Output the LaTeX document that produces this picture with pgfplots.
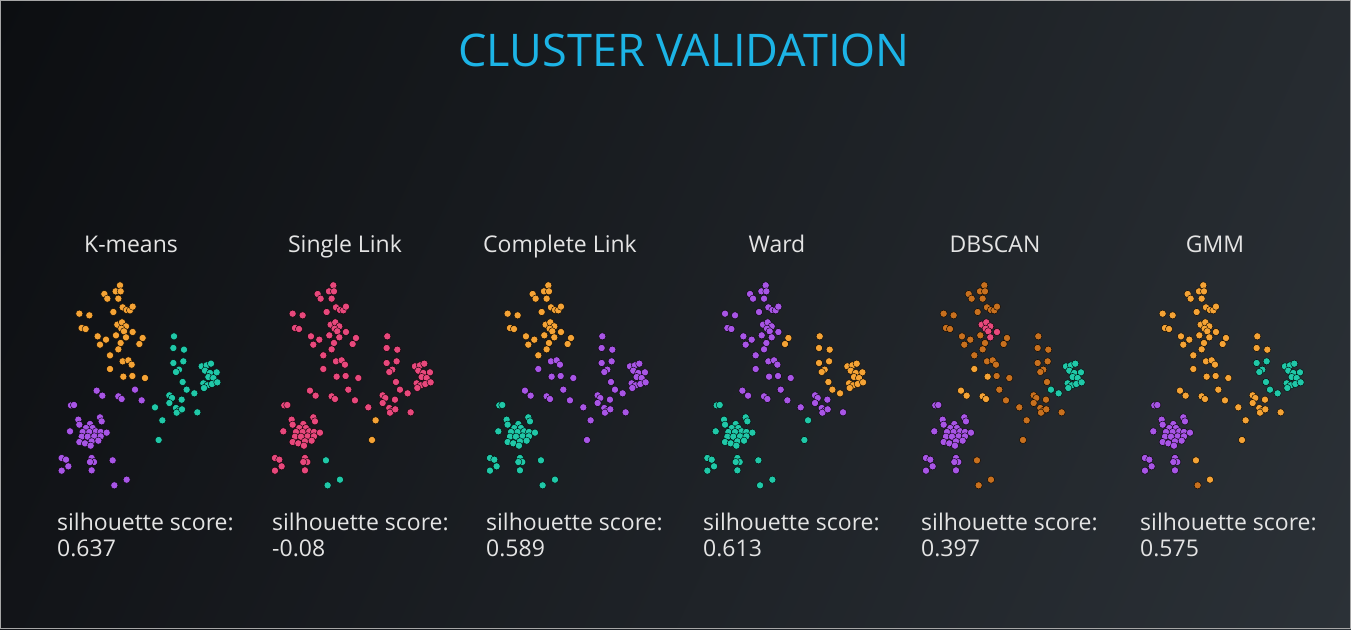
\documentclass[border=0pt]{standalone}
\usepackage{pgfplots}
\pgfplotsset{compat=1.18}
\usepackage{pgfplotstable}
\usetikzlibrary{shadings}
\usepackage{fontspec}
\setmainfont{Open Sans}
\definecolor{corange}{HTML}{F5A335}
\definecolor{cpurple}{HTML}{A855E6}
\definecolor{cteal}{HTML}{20C8A8}
\definecolor{cpink}{HTML}{E8487C}
\definecolor{cdark}{HTML}{C8701E}
\definecolor{ctitle}{HTML}{1CB4E6}
\definecolor{ctext}{HTML}{E4E4E4}
\definecolor{bgul}{HTML}{0C0E11}
\definecolor{bgur}{HTML}{262B30}
\definecolor{bgll}{HTML}{121418}
\definecolor{bglr}{HTML}{2B3137}

\pgfplotstableread{
x y km sl cl wd db gm
210 22 o k o p d o
197 40 o k o p d o
212 40 o k o p d o
163 48 o k o p d o
172 62 o k o p d o
205 62 o k o p d o
190 102 o k o p d o
218 88 o k o p d o
230 96 o k o p d o
240 97 o k o p d o
248 86 o k o p d o
88 107 o k o p d o
118 112 o k o p d o
95 150 o k o p d o
107 153 o k o p d o
143 175 o k o p d o
168 185 o k o p d o
198 172 o k o p d o
150 200 o k o p d o
212 195 o k o p d o
205 214 o k o p d o
278 180 o k o o d o
268 198 o k o o d o
180 232 o k o p d o
202 140 o k o p k o
216 133 o k o p k o
228 145 o k o p k o
214 152 o k o p k o
222 160 o k o p k o
248 162 o k o p k o
228 178 o k o p k o
218 250 o k p p d o
235 247 o k p p d o
245 260 o k p p d o
180 273 o k p p o o
220 296 o k p p o o
247 294 o k p p d o
285 300 o k p p d o
140 338 p k p p o o
157 353 p k p p o o
205 355 p k p p o o
215 363 p k p p o o
255 335 p k p p d o
275 367 p k p p d o
372 175 t k p o d o
370 210 t k p o d o
402 215 t k p o d o
370 255 t k p o d t
400 250 t k p o d t
387 275 t k p o d t
378 282 t k p o d t
398 312 t k p o d t
410 335 t k p o t t
433 346 t k p o t t
455 265 t k p o t t
470 262 t k p o t t
483 257 t k p o t t
465 278 t k p o t t
480 285 t k p o t t
500 283 t k p o t t
475 297 t k p o t t
490 300 t k p o t t
460 316 t k p o t t
472 322 t k p o t t
486 318 t k p o t t
502 313 t k p o t t
462 330 t k p o t t
358 352 t k p p d o
366 360 t k p p d o
358 375 t k p p d o
395 365 t k p p d o
315 388 t k p p d o
378 390 t k p p d o
388 398 t k p p d o
380 404 t k p p d o
396 394 t k p p d o
442 403 t k p p d o
337 427 t o p t d o
326 486 t o p t d o
63 382 p k t t p p
72 381 p k t t p p
85 425 p k t t p p
150 418 p k t t p p
155 430 p k t t p p
88 440 p k t t p p
60 460 p k t t p p
120 438 p k t t p p
108 450 p k t t p p
128 450 p k t t p p
98 462 p k t t p p
118 462 p k t t p p
138 460 p k t t p p
152 462 p k t t p p
170 464 p k t t p p
95 476 p k t t p p
113 476 p k t t p p
133 475 p k t t p p
152 475 p k t t p p
88 492 p k t t p p
105 496 p k t t p p
125 490 p k t t p p
145 488 p k t t p p
122 503 p k t t p p
35 540 p k t t p p
48 545 p k t t p p
55 565 p k t t p p
35 578 p k t t p p
125 540 p k t t p p
132 552 p k t t p p
120 552 p k t t p p
125 577 p k t t p p
188 547 p t t t d o
230 605 p t t t d o
193 622 p t t t d d
}\pts

\pgfplotsset{
  panel/.style={
    anchor=north west, width=180pt, height=215pt, scale only axis,
    xmin=0, xmax=540, ymin=0, ymax=645, y dir=reverse,
    hide axis, clip=false},
  dots/.style={scatter, only marks, mark=*, mark size=3.6pt,
    scatter src=explicit symbolic,
    scatter/classes={
      o={mark=*,mark size=3.6pt,draw=none,fill=corange},
      p={mark=*,mark size=3.6pt,draw=none,fill=cpurple},
      t={mark=*,mark size=3.6pt,draw=none,fill=cteal},
      k={mark=*,mark size=3.6pt,draw=none,fill=cpink},
      d={mark=*,mark size=3.6pt,draw=none,fill=cdark}}}
}

\newcommand{\lab}[2]{\node[text=ctext, font=\fontsize{23}{26}\selectfont, anchor=base, inner sep=0pt] at (#1pt,376pt) {#2};}
\newcommand{\score}[2]{%
  \node[text=ctext, font=\fontsize{23}{26}\selectfont, anchor=base west, inner sep=0pt] at (#1pt,99pt) {silhouette score:};
  \node[text=ctext, font=\fontsize{23}{26}\selectfont, anchor=base west, inner sep=0pt] at (#1pt,73pt) {#2};}

\begin{document}
\begin{tikzpicture}[x=1pt,y=1pt]
\useasboundingbox (0,0) rectangle (1351,629);
\shade[upper left=bgul, upper right=bgur, lower left=bgll, lower right=bglr] (0,0) rectangle (1351,629);
\draw[gray!70, line width=1pt] (0.5,0.5) rectangle (1350.5,628.5);
\node[text=ctitle, font=\fontsize{45}{51}\selectfont] at (684,579) {CLUSTER VALIDATION};

\begin{axis}[panel, at={(50pt,351pt)}]
\addplot[dots] table[x=x,y=y,meta=km]{\pts};
\end{axis}
\begin{axis}[panel, at={(263.3pt,351pt)}]
\addplot[dots] table[x=x,y=y,meta=sl]{\pts};
\end{axis}
\begin{axis}[panel, at={(478.3pt,351pt)}]
\addplot[dots] table[x=x,y=y,meta=cl]{\pts};
\end{axis}
\begin{axis}[panel, at={(695.7pt,351pt)}]
\addplot[dots] table[x=x,y=y,meta=wd]{\pts};
\end{axis}
\begin{axis}[panel, at={(914.3pt,351pt)}]
\addplot[dots] table[x=x,y=y,meta=db]{\pts};
\end{axis}
\begin{axis}[panel, at={(1133.3pt,351pt)}]
\addplot[dots] table[x=x,y=y,meta=gm]{\pts};
\end{axis}

\lab{131}{K-means}
\lab{345}{Single Link}
\lab{560}{Complete Link}
\lab{777}{Ward}
\lab{995}{DBSCAN}
\lab{1215}{GMM}

\score{57}{0.637}
\score{272}{-0.08}
\score{486}{0.589}
\score{703}{0.613}
\score{921}{0.397}
\score{1140}{0.575}
\end{tikzpicture}
\end{document}
